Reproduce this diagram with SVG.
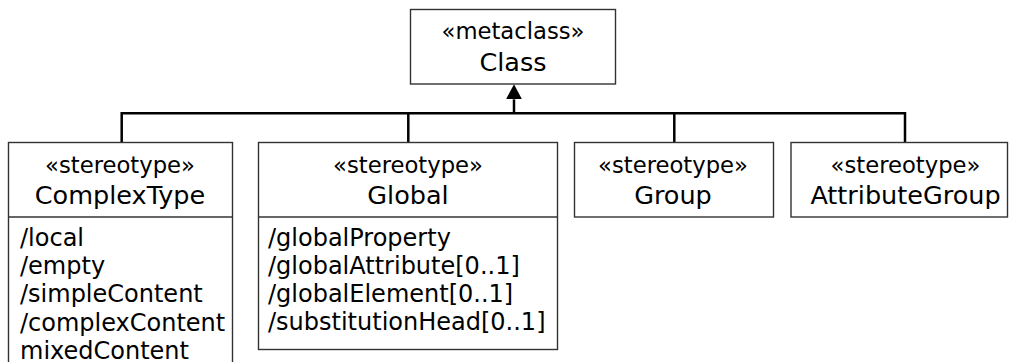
<svg xmlns="http://www.w3.org/2000/svg" width="1010" height="362" viewBox="0 0 1010 362">
<style>
.box{fill:#fff;stroke:#333;stroke-width:1.4}
.div{stroke:#333;stroke-width:1.4}
.st{font-family:"DejaVu Sans",Verdana,sans-serif;font-size:22.7px;fill:#000;text-anchor:middle}
.nm{font-family:"DejaVu Sans",Verdana,sans-serif;font-size:25.5px;fill:#000;text-anchor:middle}
.at{font-family:"DejaVu Sans",Verdana,sans-serif;font-size:24px;fill:#000}
.con{fill:none;stroke:#000;stroke-width:2.5}
</style>
<defs>
<marker id="tri" viewBox="0 0 15 16" refX="0" refY="8" markerWidth="15" markerHeight="16" markerUnits="userSpaceOnUse" orient="auto">
<path d="M0,0 L15,8 L0,16 z" fill="#000"/>
</marker>
</defs>
<rect width="1010" height="362" fill="#fff"/>
<g id="connectors">
<path class="con" d="M121.7,142.5 V113.3 H905 V142.5 M408.3,113.3 V142.5 M674.3,113.3 V142.5"/>
<path class="con" d="M514,113.3 V99.3" marker-end="url(#tri)"/>
</g>
<g id="Class">
<rect class="box" x="410.5" y="9.5" width="205" height="74.5"/>
<text class="st" x="513" y="39">«metaclass»</text>
<text class="nm" x="513" y="71">Class</text>
</g>
<g id="ComplexType">
<rect class="box" x="8.5" y="142.5" width="224" height="235"/>
<line class="div" x1="8.5" y1="217" x2="232.5" y2="217"/>
<text class="st" x="120" y="173.3">«stereotype»</text>
<text class="nm" x="120" y="203.5">ComplexType</text>
<text class="at" x="20" y="246">/local</text>
<text class="at" x="20" y="274.2">/empty</text>
<text class="at" x="20" y="302.4">/simpleContent</text>
<text class="at" x="20" y="330.6">/complexContent</text>
<text class="at" x="20" y="358.6">mixedContent</text>
</g>
<g id="Global">
<rect class="box" x="258.5" y="142.5" width="299" height="207"/>
<line class="div" x1="258.5" y1="217" x2="557.5" y2="217"/>
<text class="st" x="408" y="173.3">«stereotype»</text>
<text class="nm" x="408" y="203.5">Global</text>
<text class="at" x="268" y="245.5">/globalProperty</text>
<text class="at" x="268" y="273.8">/globalAttribute[0..1]</text>
<text class="at" x="268" y="302.1">/globalElement[0..1]</text>
<text class="at" x="268" y="330.4">/substitutionHead[0..1]</text>
</g>
<g id="Group">
<rect class="box" x="574.5" y="142.5" width="199" height="74.5"/>
<text class="st" x="673" y="173.3">«stereotype»</text>
<text class="nm" x="673" y="203.5">Group</text>
</g>
<g id="AttributeGroup">
<rect class="box" x="791" y="142.5" width="216.5" height="74.5"/>
<text class="st" x="905.5" y="173.3">«stereotype»</text>
<text class="nm" x="905.5" y="203.5">AttributeGroup</text>
</g>
</svg>
